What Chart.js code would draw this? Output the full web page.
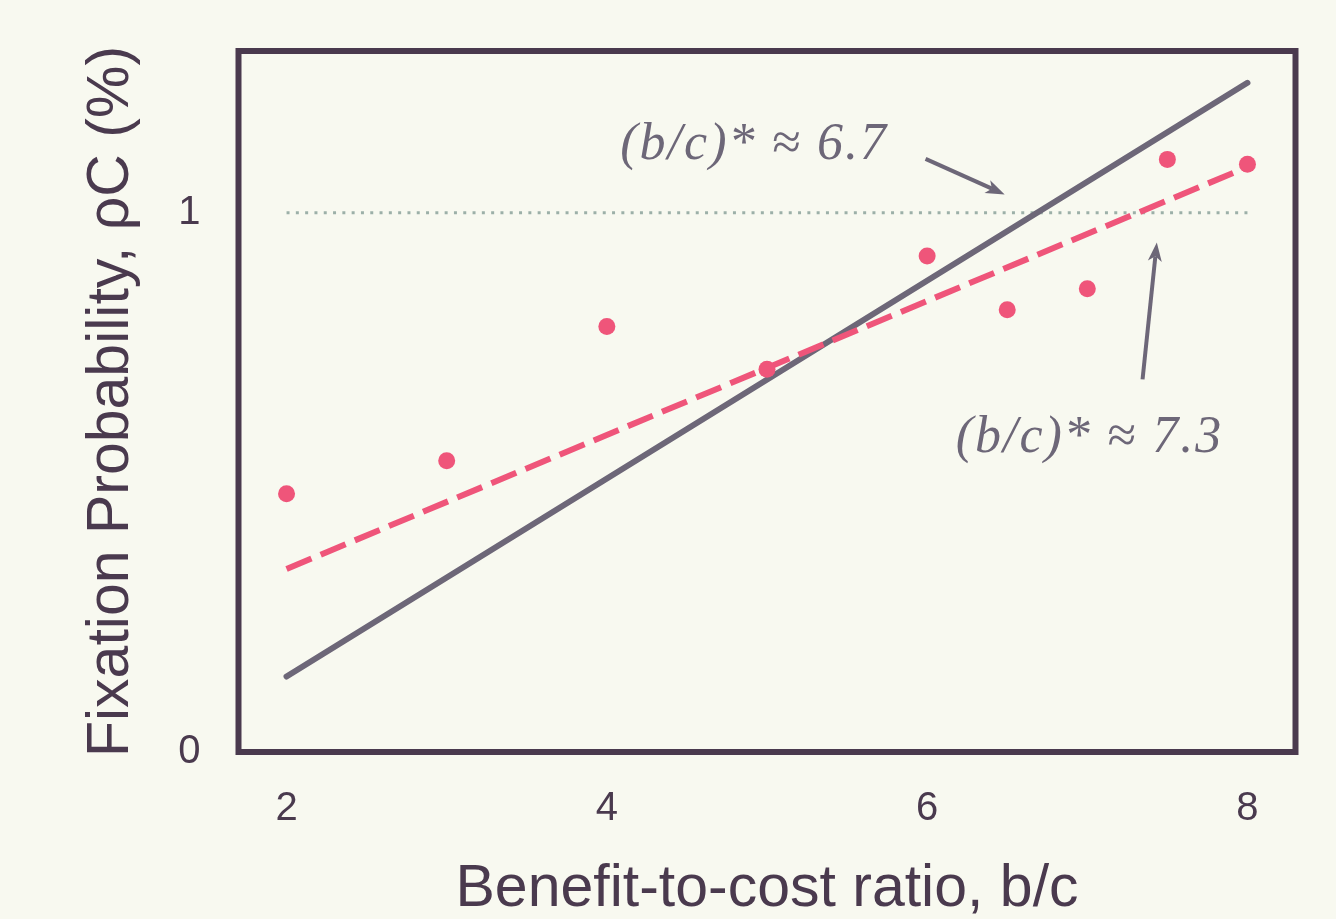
<!DOCTYPE html>
<html><head><meta charset="utf-8">
<script src="https://cdn.jsdelivr.net/npm/chart.js@4.4.1/dist/chart.umd.min.js"></script>
<style>html,body{margin:0;padding:0;background:#f8f9f0;}#wrap{width:1336px;height:919px;position:relative;}</style>
</head><body><div id="wrap"><canvas id="c"></canvas></div>
<script>
// ---- data ----
const X_TICKS = [2, 4, 6, 8];
const Y_TICKS = [0, 1];
const X_RANGE = [1.7, 8.3];
const Y_RANGE = [0, 1.3];
const sim_x = [2, 3, 4, 5, 6, 6.5, 7, 7.5, 8];
const sim_y = [0.479, 0.540, 0.789, 0.710, 0.920, 0.820, 0.859, 1.099, 1.090];
const fit_x = [2, 8];
const fit_y = [0.3395, 1.085];
const theory_x = [2, 8];
const theory_y = [0.140, 1.241];
const neutral_x = [2, 8];
const neutral_y = [1, 1];
const label_texts = ['(b/c)* \u2248 6.7', '(b/c)* \u2248 7.3'];
const label_at = [[4.084, 1.100], [6.178, 0.556]];
const arrow_from = [[5.99, 1.100], [7.345, 0.691]];
const arrow_to = [[6.484, 1.034], [7.434, 0.945]];

const pts = (xs, ys) => xs.map((x, i) => ({x, y: ys[i]}));

const INK = '#4a3a4e', GREY = '#6d6778', RED = '#ef557a', SAGE = '#9cb0a8', BG = '#f8f9f0';
const SANS = '"Liberation Sans", Arial, Helvetica, sans-serif';

const bgPlugin = {
  id: 'bg',
  beforeDraw(chart) {
    const c = chart.ctx; c.save(); c.fillStyle = BG; c.fillRect(0, 0, chart.width, chart.height); c.restore();
  }
};

function drawArrow(c, x1, y1, x2, y2) {
  const ang = Math.atan2(y2 - y1, x2 - x1);
  const L = 19, W = 14, notch = 5;
  const cos = Math.cos(ang), sin = Math.sin(ang);
  const bx = x2 - L * cos, by = y2 - L * sin;
  c.strokeStyle = GREY; c.lineWidth = 4; c.lineCap = 'butt';
  c.beginPath(); c.moveTo(x1, y1); c.lineTo(x2 - (L - notch) * cos, y2 - (L - notch) * sin); c.stroke();
  c.fillStyle = GREY;
  c.beginPath();
  c.moveTo(x2, y2);
  c.lineTo(bx + W / 2 * sin, by - W / 2 * cos);
  c.lineTo(x2 - (L - notch) * cos, y2 - (L - notch) * sin);
  c.lineTo(bx - W / 2 * sin, by + W / 2 * cos);
  c.closePath(); c.fill();
}

const annoPlugin = {
  id: 'anno',
  afterDatasetsDraw(chart) {
    const c = chart.ctx, xs = chart.scales.x, ys = chart.scales.y;
    c.save();
    for (let i = 0; i < label_texts.length; i++) {
      c.font = 'italic 52px "Liberation Serif", "DejaVu Serif", serif';
      if ('letterSpacing' in c) c.letterSpacing = '2px';
      c.fillStyle = GREY; c.textBaseline = 'alphabetic'; c.textAlign = 'left';
      c.fillText(label_texts[i], xs.getPixelForValue(label_at[i][0]), ys.getPixelForValue(label_at[i][1]));
      if ('letterSpacing' in c) c.letterSpacing = '0px';
      drawArrow(c, xs.getPixelForValue(arrow_from[i][0]), ys.getPixelForValue(arrow_from[i][1]),
                   xs.getPixelForValue(arrow_to[i][0]), ys.getPixelForValue(arrow_to[i][1]));
    }
    c.restore();
  },
  afterDraw(chart) {
    const a = chart.chartArea, c = chart.ctx;
    c.save(); c.strokeStyle = INK; c.lineWidth = 6; c.lineJoin = 'miter';
    c.strokeRect(a.left, a.top, a.right - a.left, a.bottom - a.top);
    c.restore();
  }
};

new Chart(document.getElementById('c'), {
  type: 'scatter',
  data: {
    datasets: [
      {label: 'Simulation', data: pts(sim_x, sim_y), backgroundColor: RED, borderColor: RED, pointRadius: 8.5, pointBorderWidth: 0, showLine: false},
      {label: 'Fit', type: 'line', data: pts(fit_x, fit_y), borderColor: RED, borderWidth: 6, borderDash: [27, 10], pointRadius: 0, fill: false},
      {label: 'Theory', type: 'line', data: pts(theory_x, theory_y), borderColor: GREY, borderWidth: 6, borderCapStyle: 'round', pointRadius: 0, fill: false},
      {label: 'Neutral', type: 'line', data: pts(neutral_x, neutral_y), borderColor: SAGE, borderWidth: 3, borderDash: [3, 6.3], pointRadius: 0, fill: false}
    ]
  },
  options: {
    responsive: true, maintainAspectRatio: false, animation: false,
    layout: {padding: {top: 51, right: 40.5, bottom: 0, left: 0}},
    plugins: {legend: {display: false}, tooltip: {enabled: false}},
    scales: {
      x: {
        type: 'linear', min: X_RANGE[0], max: X_RANGE[1],
        afterFit(s) { s.height = 167; s.paddingLeft = 0; s.paddingRight = 0; },
        afterBuildTicks(s) { s.ticks = X_TICKS.map(v => ({value: v})); },
        grid: {display: false, drawTicks: false},
        border: {display: false},
        ticks: {color: INK, font: {family: SANS, size: 40}, padding: 33, maxRotation: 0},
        title: {display: true, text: 'Benefit-to-cost ratio, b/c', color: INK, font: {family: SANS, size: 59, lineHeight: 1}, padding: {top: 0, bottom: 0}}
      },
      y: {
        type: 'linear', min: Y_RANGE[0], max: Y_RANGE[1],
        afterFit(s) { s.width = 238.5; s.paddingTop = 0; s.paddingBottom = 0; },
        afterBuildTicks(s) { s.ticks = Y_TICKS.map(v => ({value: v})); },
        grid: {display: false, drawTicks: false},
        border: {display: false},
        ticks: {color: INK, font: {family: SANS, size: 40}, padding: 38},
        title: {display: true, text: 'Fixation Probability, \u03c1C (%)', color: INK, font: {family: SANS, size: 59, lineHeight: 1}, padding: {top: 82, bottom: 0}}
      }
    }
  },
  plugins: [bgPlugin, annoPlugin]
});
</script></body></html>
